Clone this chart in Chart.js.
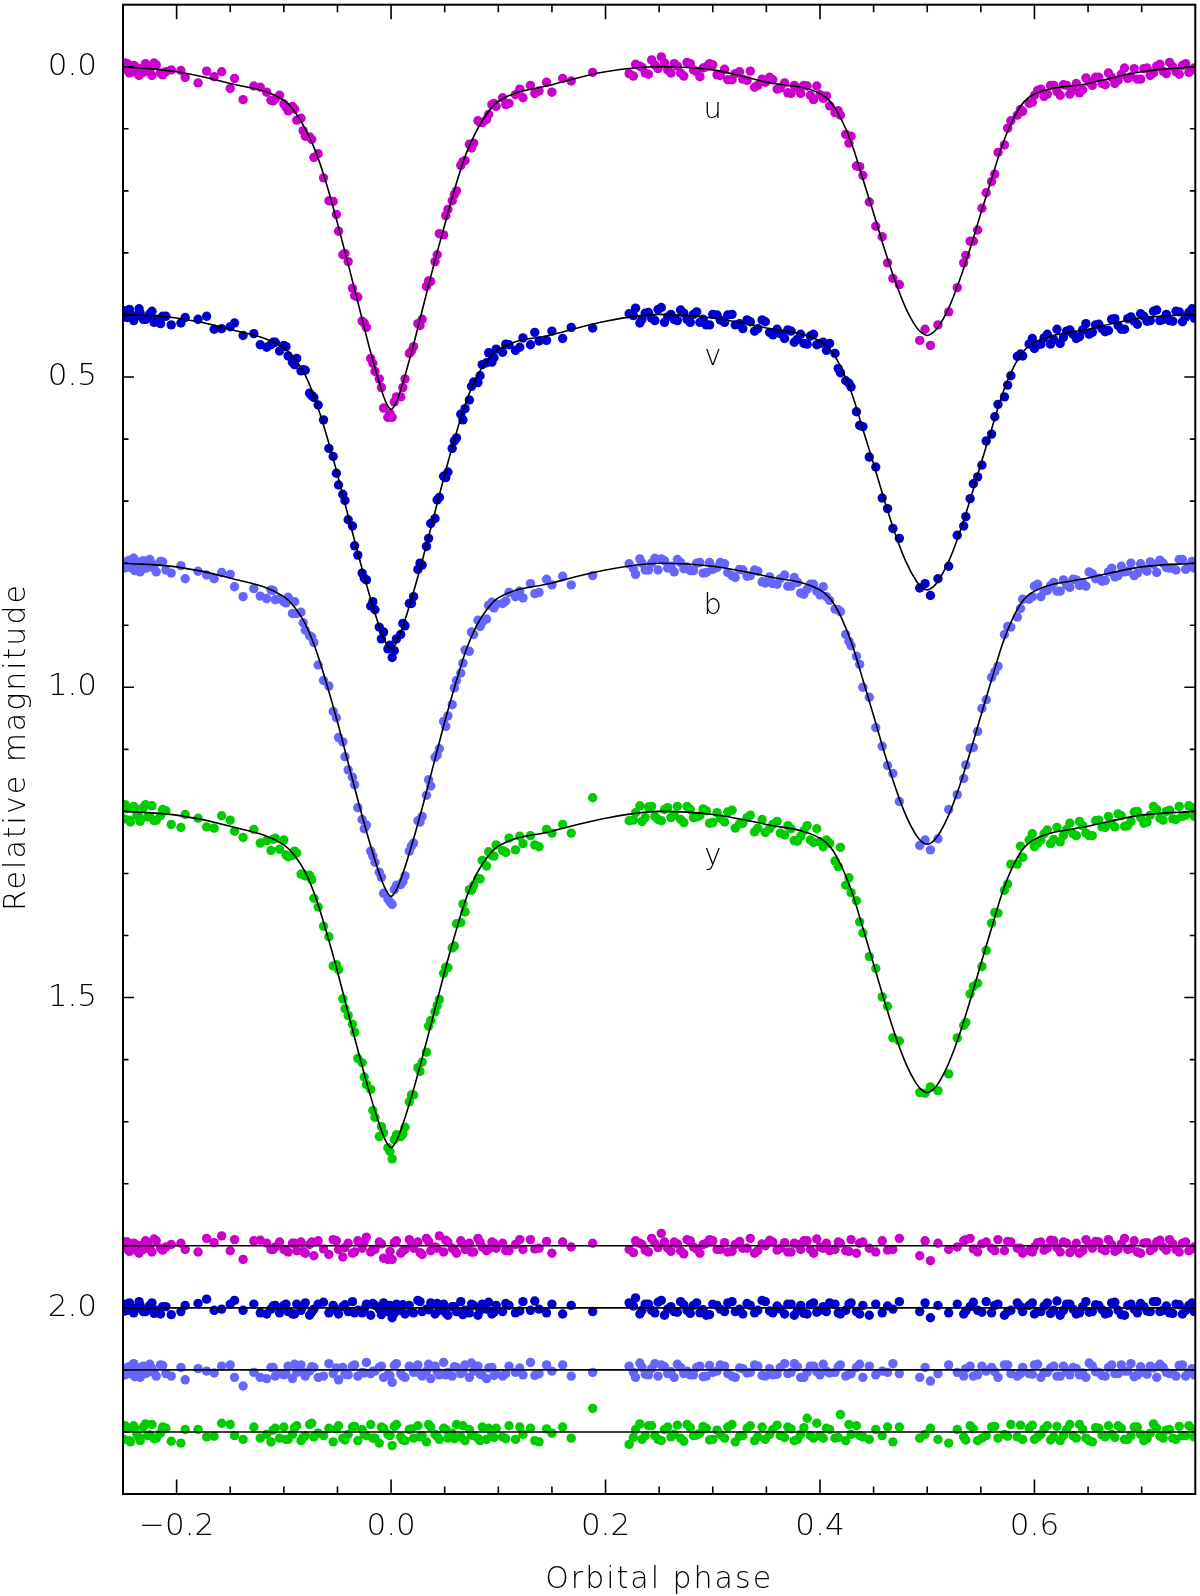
<!DOCTYPE html>
<html><head><meta charset="utf-8">
<script src="https://cdn.jsdelivr.net/npm/chart.js@4.4.0/dist/chart.umd.min.js"></script>
<style>html,body{margin:0;padding:0;background:#fff;}canvas{display:block;}</style>
</head><body>
<canvas id="c" width="1200" height="1596"></canvas>
<script>
// ===== observing run 1: phases shared by all four bands =====
const phase = [
-0.249,-0.246,-0.243,-0.240,-0.237,-0.234,-0.231,-0.227,-0.223,-0.219,-0.215,-0.210,-0.196,-0.192,-0.172,-0.158,-0.146,-0.138,-0.128,-0.116,-0.112,-0.108,-0.104,
-0.100,-0.096,-0.092,-0.088,-0.084,-0.080,-0.076,-0.072,-0.068,-0.058,-0.054,-0.049,-0.045,-0.040,-0.036,-0.031,-0.027,-0.023,-0.019,-0.015,-0.011,-0.007,-0.003,
0.001,0.005,0.009,0.013,0.017,0.021,0.025,0.029,0.033,0.037,0.041,0.045,0.049,0.053,0.057,0.061,0.065,0.069,0.073,0.077,0.081,0.085,0.089,0.094,0.098,
0.104,0.110,0.116,0.123,0.130,0.138,0.150,0.160,0.168,0.188,0.222,0.228,0.234,0.240,0.246,0.252,0.258,0.264,0.270,0.276,0.282,0.288,0.294,0.300,0.307,0.314,0.321,0.328,0.335,0.342,0.349,0.356,0.363,0.370,0.376,0.382,0.388,0.394,0.400,0.406,
0.414,0.419,0.424,0.429,0.434,0.440,0.446,0.452,0.458,0.468,0.474,0.493,0.498,0.503,0.510,0.520,0.528,0.534,0.540,0.547,0.555,0.560,0.566,0.572,0.578,0.584,0.589,
0.595,0.600,0.606,0.612,0.618,0.624,0.630,0.636,0.642,0.648,0.654,0.660,0.666,0.672,0.678,0.684,0.690,0.696,0.702,0.708,0.714,0.720,0.726,0.732,0.738,0.744,0.749];
const uMag = [
0.004,-0.005,0.003,-0.002,0.010,0.003,0.009,0.002,0.014,-0.003,0.010,0.008,0.006,0.017,0.007,0.008,0.019,0.053,0.031,0.041,0.054,0.052,0.046,
0.060,0.071,0.064,0.086,0.083,0.112,0.113,0.146,0.140,0.216,0.217,0.265,0.303,0.314,0.357,0.371,0.410,0.420,0.470,0.491,0.503,0.550,0.565,
0.565,0.532,0.532,0.503,0.462,0.451,0.414,0.407,0.354,0.346,0.314,0.269,0.271,0.230,0.216,0.200,0.159,0.151,0.125,0.123,0.087,0.090,0.085,0.061,0.064,
0.050,0.059,0.045,0.050,0.030,0.039,0.041,0.019,0.023,0.009,0.011,-0.004,0.001,0.012,-0.003,-0.016,0.005,-0.005,0.010,-0.007,0.005,0.016,0.000,-0.003,0.014,0.021,0.011,0.020,0.007,0.030,0.025,0.021,0.034,0.042,0.030,0.043,0.031,0.053,0.045,0.047,
0.074,0.078,0.109,0.112,0.160,0.175,0.218,0.257,0.274,0.341,0.351,0.441,0.423,0.449,0.416,0.395,0.356,0.316,0.281,0.263,0.203,0.185,0.138,0.126,0.087,0.078,0.072,
0.059,0.046,0.036,0.044,0.030,0.046,0.030,0.038,0.042,0.018,0.030,0.017,0.029,0.017,0.022,0.002,0.016,0.020,0.003,0.014,-0.001,0.007,-0.007,0.008,-0.002,0.009,0.002];
const vMag = [
0.393,0.404,0.398,0.409,0.401,0.397,0.407,0.404,0.394,0.407,0.414,0.402,0.413,0.404,0.402,0.422,0.413,0.433,0.430,0.452,0.448,0.444,0.458,
0.449,0.466,0.476,0.470,0.490,0.489,0.526,0.533,0.545,0.615,0.628,0.674,0.689,0.730,0.740,0.787,0.816,0.827,0.869,0.875,0.903,0.911,0.938,
0.952,0.922,0.915,0.901,0.865,0.854,0.810,0.803,0.773,0.736,0.728,0.694,0.660,0.653,0.615,0.598,0.560,0.551,0.537,0.508,0.509,0.480,0.477,0.476,0.455,
0.460,0.448,0.457,0.437,0.448,0.442,0.426,0.438,0.420,0.421,0.398,0.389,0.407,0.396,0.409,0.388,0.403,0.407,0.392,0.407,0.399,0.412,0.416,0.399,0.408,0.400,0.416,0.422,0.411,0.422,0.411,0.432,0.430,0.424,0.444,0.431,0.447,0.431,0.446,0.457,
0.462,0.493,0.506,0.516,0.556,0.580,0.629,0.645,0.695,0.744,0.760,0.840,0.833,0.852,0.825,0.805,0.755,0.740,0.696,0.661,0.603,0.592,0.544,0.532,0.498,0.467,0.466,
0.447,0.454,0.447,0.431,0.440,0.446,0.426,0.431,0.435,0.414,0.428,0.415,0.427,0.407,0.417,0.423,0.403,0.415,0.402,0.409,0.392,0.407,0.409,0.394,0.411,0.396,0.405];
const bMag = [
0.808,0.797,0.807,0.792,0.804,0.814,0.796,0.807,0.801,0.814,0.797,0.811,0.804,0.825,0.819,0.815,0.838,0.854,0.841,0.857,0.843,0.859,0.857,
0.862,0.855,0.881,0.881,0.879,0.908,0.917,0.928,0.964,0.998,1.039,1.081,1.088,1.133,1.145,1.194,1.213,1.222,1.264,1.282,1.298,1.332,1.341,
1.350,1.319,1.318,1.304,1.264,1.251,1.215,1.208,1.174,1.159,1.113,1.099,1.055,1.046,1.028,0.989,0.977,0.940,0.942,0.915,0.892,0.895,0.890,0.863,0.866,
0.865,0.847,0.854,0.856,0.833,0.847,0.835,0.821,0.835,0.820,0.801,0.818,0.800,0.811,0.792,0.793,0.808,0.814,0.799,0.806,0.812,0.799,0.815,0.810,0.799,0.815,0.823,0.811,0.820,0.813,0.832,0.833,0.825,0.837,0.823,0.848,0.842,0.834,0.851,0.854,
0.874,0.878,0.915,0.933,0.950,1.000,1.016,1.065,1.095,1.139,1.184,1.255,1.246,1.262,1.244,1.197,1.173,1.147,1.098,1.071,1.020,0.984,0.966,0.915,0.903,0.887,0.858,
0.858,0.837,0.854,0.844,0.831,0.845,0.835,0.826,0.836,0.837,0.817,0.824,0.828,0.808,0.820,0.814,0.800,0.816,0.809,0.798,0.815,0.800,0.808,0.811,0.794,0.805,0.808];
const yMag = [
1.212,1.195,1.217,1.192,1.206,1.216,1.194,1.209,1.191,1.214,1.207,1.199,1.226,1.205,1.225,1.207,1.232,1.242,1.229,1.247,1.263,1.243,1.261,
1.246,1.273,1.271,1.267,1.301,1.304,1.303,1.340,1.354,1.402,1.449,1.455,1.502,1.529,1.543,1.598,1.605,1.640,1.648,1.693,1.724,1.718,1.742,
1.760,1.721,1.724,1.709,1.668,1.657,1.613,1.604,1.588,1.537,1.523,1.503,1.461,1.452,1.420,1.381,1.379,1.362,1.326,1.319,1.308,1.279,1.288,1.271,1.254,
1.263,1.243,1.262,1.252,1.239,1.257,1.235,1.221,1.235,1.178,1.215,1.202,1.216,1.193,1.208,1.215,1.194,1.206,1.213,1.192,1.210,1.207,1.199,1.218,1.211,1.201,1.227,1.219,1.206,1.227,1.234,1.221,1.235,1.223,1.247,1.240,1.223,1.250,1.249,1.246,
1.280,1.258,1.319,1.331,1.344,1.396,1.434,1.453,1.499,1.565,1.570,1.653,1.654,1.644,1.650,1.623,1.565,1.545,1.494,1.477,1.424,1.380,1.364,1.327,1.285,1.285,1.274,
1.246,1.257,1.246,1.230,1.245,1.249,1.229,1.236,1.216,1.235,1.239,1.214,1.226,1.220,1.204,1.224,1.216,1.200,1.219,1.206,1.197,1.214,1.198,1.213,1.208,1.191,1.208];
// O-C residuals of run 1, as plotted (shifted rows)
const uRes = [
1.904,1.894,1.902,1.896,1.908,1.900,1.906,1.898,1.910,1.892,1.904,1.902,1.896,1.906,1.888,1.884,1.890,1.922,1.892,1.896,1.906,1.902,1.894,
1.906,1.910,1.896,1.908,1.894,1.912,1.898,1.916,1.892,1.914,1.890,1.906,1.918,1.896,1.912,1.892,1.904,1.886,1.910,1.906,1.894,1.920,1.922,
1.922,1.892,1.912,1.906,1.890,1.904,1.894,1.914,1.888,1.908,1.902,1.884,1.910,1.894,1.904,1.912,1.892,1.906,1.896,1.910,1.888,1.902,1.908,1.894,1.904,
1.896,1.908,1.898,1.906,1.890,1.904,1.912,1.894,1.902,1.896,1.906,1.892,1.898,1.910,1.896,1.880,1.904,1.894,1.908,1.890,1.902,1.912,1.896,1.892,1.906,1.910,1.898,1.904,1.888,1.908,1.900,1.894,1.904,1.910,1.896,1.906,1.892,1.912,1.902,1.896,
1.906,1.896,1.908,1.890,1.912,1.894,1.904,1.910,1.892,1.906,1.888,1.916,1.892,1.924,1.896,1.906,1.902,1.892,1.888,1.910,1.894,1.904,1.890,1.908,1.894,1.904,1.912,
1.908,1.902,1.894,1.904,1.892,1.910,1.896,1.906,1.912,1.890,1.904,1.894,1.908,1.898,1.906,1.888,1.904,1.910,1.896,1.908,1.894,1.902,1.890,1.906,1.896,1.908,1.902];
const vRes = [
1.994,2.004,1.998,2.008,2.000,1.996,2.006,2.002,1.992,2.004,2.010,1.998,2.006,1.996,1.986,2.002,1.988,2.004,1.994,2.010,2.002,1.996,2.008,
1.996,2.006,2.010,1.994,2.004,1.992,2.012,2.002,1.994,2.008,1.996,2.010,1.998,2.006,1.990,2.004,2.008,1.994,2.012,1.996,2.002,1.992,2.006,
2.016,1.994,2.004,2.010,1.996,2.008,1.988,2.006,2.002,1.992,2.010,2.004,1.994,2.012,1.998,2.006,1.990,2.004,2.008,1.996,2.012,1.994,2.002,2.010,1.996,
2.006,1.996,2.008,1.990,2.004,2.002,1.994,2.010,1.996,2.006,1.992,1.984,2.004,1.994,2.008,1.988,2.002,2.006,1.990,2.004,1.996,2.008,2.012,1.994,2.002,1.992,2.006,2.010,1.996,2.004,1.990,2.008,2.002,1.994,2.012,1.996,2.010,1.992,2.004,2.006,
1.994,2.010,2.004,1.992,2.006,1.996,2.012,1.994,2.008,2.002,1.990,2.006,1.992,2.016,1.996,2.008,1.994,2.010,1.998,2.004,1.990,2.008,1.994,2.012,2.004,1.992,2.006,
1.996,2.010,2.006,1.992,2.004,2.012,1.994,2.002,2.008,1.990,2.006,1.996,2.010,1.992,2.004,2.012,1.994,2.008,1.998,2.006,1.990,2.004,2.008,1.994,2.010,1.996,2.006];
const bRes = [
2.108,2.096,2.106,2.090,2.102,2.112,2.094,2.104,2.098,2.110,2.092,2.106,2.096,2.116,2.102,2.094,2.112,2.126,2.104,2.114,2.096,2.110,2.106,
2.108,2.094,2.114,2.104,2.092,2.110,2.102,2.096,2.112,2.090,2.106,2.116,2.096,2.108,2.094,2.110,2.104,2.088,2.106,2.102,2.096,2.112,2.108,
2.120,2.090,2.106,2.112,2.094,2.104,2.092,2.110,2.102,2.114,2.094,2.108,2.088,2.104,2.110,2.096,2.106,2.092,2.112,2.102,2.094,2.108,2.114,2.096,2.106,
2.110,2.094,2.104,2.108,2.088,2.106,2.102,2.092,2.110,2.104,2.094,2.112,2.096,2.108,2.090,2.092,2.106,2.112,2.096,2.102,2.108,2.094,2.110,2.104,2.092,2.106,2.112,2.098,2.104,2.094,2.110,2.108,2.096,2.106,2.090,2.112,2.104,2.094,2.108,2.102,
2.104,2.092,2.110,2.106,2.096,2.112,2.094,2.108,2.102,2.090,2.106,2.112,2.096,2.118,2.106,2.092,2.104,2.110,2.094,2.108,2.102,2.096,2.112,2.092,2.106,2.110,2.096,
2.106,2.092,2.112,2.104,2.094,2.110,2.102,2.096,2.108,2.112,2.094,2.104,2.110,2.092,2.106,2.102,2.090,2.108,2.104,2.094,2.112,2.096,2.106,2.110,2.092,2.104,2.108];
const yRes = [
2.212,2.194,2.216,2.190,2.204,2.214,2.192,2.206,2.188,2.210,2.202,2.194,2.218,2.196,2.208,2.186,2.206,2.212,2.192,2.204,2.216,2.194,2.210,
2.192,2.212,2.204,2.190,2.214,2.206,2.188,2.208,2.202,2.194,2.216,2.190,2.210,2.204,2.192,2.214,2.196,2.206,2.188,2.210,2.218,2.194,2.204,
2.222,2.188,2.208,2.214,2.196,2.210,2.190,2.206,2.216,2.192,2.204,2.212,2.194,2.210,2.202,2.188,2.208,2.214,2.196,2.206,2.210,2.192,2.212,2.204,2.194,
2.208,2.190,2.212,2.204,2.194,2.216,2.202,2.192,2.210,2.162,2.220,2.196,2.212,2.190,2.206,2.214,2.192,2.204,2.210,2.188,2.206,2.202,2.194,2.212,2.204,2.192,2.216,2.206,2.190,2.208,2.212,2.196,2.206,2.192,2.214,2.204,2.178,2.210,2.206,2.194,
2.210,2.172,2.214,2.204,2.190,2.208,2.212,2.196,2.206,2.216,2.192,2.210,2.204,2.194,2.212,2.218,2.196,2.208,2.190,2.214,2.206,2.192,2.210,2.204,2.188,2.208,2.212,
2.194,2.212,2.204,2.190,2.208,2.214,2.196,2.206,2.188,2.210,2.216,2.194,2.208,2.204,2.190,2.212,2.206,2.192,2.214,2.202,2.194,2.210,2.196,2.212,2.206,2.190,2.208];

// ===== observing run 2 =====
const phase2 = [
-0.248,-0.244,-0.239,-0.235,-0.229,-0.225,-0.221,-0.213,-0.205,-0.180,-0.165,-0.150,-0.122,-0.110,
-0.098,-0.090,-0.082,-0.074,-0.063,-0.051,-0.043,-0.034,-0.025,-0.017,-0.009,-0.001,
0.003,0.011,0.019,0.027,0.035,0.043,0.051,0.059,0.067,0.075,0.083,0.091,0.096,
0.107,0.120,0.134,0.145,0.226,0.232,0.237,0.243,0.249,0.255,0.261,0.267,0.273,0.279,0.285,0.291,0.297,0.304,0.311,0.318,0.325,0.332,0.339,0.346,0.353,0.360,0.367,0.373,0.379,0.385,0.391,0.397,0.403,0.409,
0.417,0.427,0.437,0.463,0.536,0.543,0.551,0.563,0.575,0.587,
0.598,0.603,0.609,0.615,0.621,0.627,0.633,0.639,0.645,0.651,0.657,0.663,0.669,0.675,0.681,0.687,0.693,0.699,0.705,0.711,0.717,0.723,0.729,0.735,0.741,0.747];
const uMag2 = [
-0.006,0.010,-0.001,0.014,-0.005,0.008,-0.006,0.013,0.005,0.026,0.016,0.035,0.033,0.055,
0.065,0.068,0.103,0.117,0.179,0.238,0.301,0.369,0.413,0.478,0.517,0.559,
0.540,0.517,0.458,0.417,0.345,0.303,0.240,0.206,0.153,0.131,0.090,0.077,0.059,
0.061,0.036,0.043,0.025,0.015,-0.001,0.010,-0.011,0.003,-0.006,0.010,-0.001,0.015,-0.005,0.008,0.002,-0.005,0.013,0.004,0.021,0.008,0.022,0.033,0.020,0.017,0.036,0.026,0.043,0.034,0.030,0.046,0.031,0.051,0.063,
0.071,0.123,0.161,0.316,0.304,0.281,0.228,0.173,0.099,0.069,
0.057,0.038,0.048,0.030,0.040,0.029,0.044,0.027,0.037,0.025,0.017,0.027,0.010,0.027,0.012,0.019,0.003,0.020,0.002,0.010,-0.004,0.011,0.000,0.012,-0.005,0.005];
const vMag2 = [
0.403,0.391,0.403,0.390,0.407,0.398,0.412,0.402,0.416,0.407,0.423,0.419,0.448,0.444,
0.451,0.480,0.488,0.530,0.569,0.655,0.699,0.772,0.824,0.862,0.922,0.932,
0.941,0.897,0.865,0.800,0.760,0.698,0.662,0.603,0.569,0.515,0.498,0.461,0.469,
0.447,0.452,0.428,0.441,0.401,0.413,0.397,0.405,0.391,0.412,0.399,0.409,0.397,0.412,0.395,0.407,0.416,0.400,0.412,0.399,0.414,0.408,0.426,0.408,0.428,0.423,0.438,0.426,0.439,0.446,0.434,0.448,0.444,0.446,
0.486,0.510,0.578,0.712,0.725,0.672,0.642,0.564,0.513,0.463,
0.438,0.448,0.437,0.447,0.423,0.436,0.424,0.438,0.424,0.431,0.416,0.422,0.425,0.406,0.423,0.406,0.410,0.398,0.410,0.394,0.409,0.399,0.410,0.395,0.403,0.390];
const bMag2 = [
0.807,0.795,0.812,0.798,0.808,0.794,0.808,0.798,0.816,0.813,0.825,0.818,0.853,0.844,
0.864,0.862,0.896,0.919,0.989,1.049,1.112,1.157,1.228,1.272,1.306,1.346,
1.326,1.313,1.256,1.217,1.149,1.109,1.063,1.001,0.961,0.911,0.902,0.868,0.872,
0.861,0.845,0.849,0.826,0.809,0.793,0.811,0.800,0.811,0.796,0.805,0.794,0.809,0.812,0.800,0.816,0.799,0.807,0.801,0.820,0.810,0.821,0.811,0.830,0.822,0.834,0.819,0.837,0.831,0.850,0.834,0.845,0.838,0.860,
0.875,0.926,0.963,1.126,1.125,1.097,1.034,0.975,0.902,0.873,
0.854,0.834,0.845,0.836,0.845,0.827,0.839,0.827,0.832,0.814,0.825,0.829,0.814,0.822,0.805,0.813,0.820,0.801,0.813,0.802,0.795,0.807,0.808,0.794,0.810,0.797];
const yMag2 = [
1.189,1.214,1.195,1.210,1.189,1.208,1.215,1.197,1.221,1.211,1.227,1.214,1.251,1.245,
1.270,1.264,1.301,1.310,1.385,1.447,1.518,1.556,1.628,1.682,1.708,1.748,
1.729,1.720,1.657,1.619,1.546,1.513,1.451,1.417,1.349,1.327,1.309,1.265,1.272,
1.266,1.240,1.254,1.229,1.214,1.191,1.210,1.192,1.213,1.197,1.210,1.192,1.218,1.197,1.209,1.196,1.219,1.202,1.217,1.198,1.220,1.210,1.233,1.213,1.228,1.216,1.238,1.228,1.248,1.231,1.246,1.228,1.257,1.251,
1.289,1.307,1.378,1.514,1.540,1.482,1.450,1.363,1.317,1.256,
1.236,1.251,1.236,1.252,1.226,1.239,1.219,1.239,1.223,1.239,1.215,1.225,1.208,1.225,1.207,1.223,1.201,1.210,1.217,1.192,1.211,1.200,1.212,1.192,1.206,1.194];
const uRes2 = [
1.894,1.909,1.897,1.912,1.892,1.904,1.889,1.907,1.898,1.910,1.895,1.908,1.891,1.906,
1.907,1.896,1.909,1.894,1.905,1.892,1.903,1.910,1.893,1.906,1.897,1.909,
1.895,1.908,1.898,1.911,1.893,1.904,1.891,1.906,1.897,1.910,1.894,1.905,1.896,
1.908,1.890,1.905,1.893,1.911,1.896,1.907,1.888,1.903,1.894,1.909,1.897,1.913,1.892,1.905,1.898,1.890,1.906,1.895,1.909,1.893,1.904,1.912,1.897,1.891,1.907,1.895,1.910,1.898,1.892,1.906,1.889,1.904,1.908,
1.894,1.909,1.896,1.907,1.890,1.905,1.897,1.908,1.893,1.904,
1.910,1.895,1.907,1.891,1.903,1.894,1.911,1.896,1.908,1.898,1.893,1.905,1.890,1.909,1.897,1.906,1.892,1.912,1.895,1.904,1.891,1.907,1.897,1.910,1.894,1.905];
const vRes2 = [
2.005,1.992,2.003,1.990,2.006,1.996,2.009,1.998,2.011,1.993,2.004,1.994,2.008,1.997,
1.994,2.010,1.997,2.007,1.991,2.004,1.995,2.008,2.002,1.993,2.011,1.996,
2.009,1.995,2.006,1.990,2.003,1.993,2.008,1.998,2.011,1.994,2.004,1.991,2.007,
1.993,2.005,1.989,2.008,1.997,2.010,1.994,2.004,1.991,2.012,1.998,2.007,1.995,2.009,1.992,2.003,2.011,1.996,2.006,1.990,2.002,1.993,2.008,1.988,2.005,1.997,2.010,1.994,2.004,2.009,1.995,2.007,1.998,1.992,
2.008,1.994,2.010,1.997,2.005,1.991,2.007,1.996,2.006,1.998,
1.992,2.006,1.997,2.009,1.989,2.004,1.994,2.010,1.998,2.007,1.995,2.003,2.008,1.991,2.011,1.996,2.002,1.993,2.005,1.990,2.006,1.997,2.009,1.995,2.004,1.992];
const bRes2 = [
2.108,2.095,2.111,2.097,2.106,2.091,2.104,2.093,2.110,2.098,2.105,2.092,2.112,2.096,
2.106,2.091,2.104,2.095,2.110,2.097,2.107,2.092,2.105,2.102,2.094,2.109,
2.093,2.110,2.096,2.106,2.091,2.103,2.108,2.095,2.102,2.089,2.107,2.097,2.109,
2.106,2.097,2.109,2.092,2.104,2.089,2.107,2.098,2.110,2.095,2.103,2.091,2.106,2.108,2.096,2.111,2.093,2.102,2.094,2.110,2.097,2.105,2.092,2.109,2.098,2.107,2.090,2.104,2.095,2.112,2.094,2.103,2.091,2.105,
2.095,2.107,2.091,2.104,2.098,2.110,2.094,2.103,2.092,2.106,
2.107,2.091,2.104,2.097,2.110,2.094,2.108,2.098,2.105,2.089,2.103,2.109,2.096,2.106,2.092,2.102,2.111,2.095,2.107,2.097,2.091,2.104,2.106,2.093,2.110,2.098];
const yRes2 = [
2.190,2.214,2.194,2.209,2.187,2.205,2.211,2.192,2.215,2.196,2.207,2.188,2.210,2.197,
2.212,2.193,2.209,2.186,2.206,2.195,2.213,2.191,2.204,2.210,2.192,2.206,
2.191,2.213,2.195,2.208,2.188,2.207,2.196,2.211,2.190,2.205,2.214,2.194,2.209,
2.211,2.192,2.214,2.195,2.209,2.187,2.206,2.190,2.212,2.196,2.208,2.189,2.215,2.193,2.205,2.191,2.213,2.197,2.210,2.188,2.207,2.194,2.214,2.192,2.204,2.189,2.209,2.195,2.212,2.193,2.206,2.186,2.210,2.196,
2.209,2.188,2.206,2.192,2.213,2.195,2.210,2.191,2.207,2.189,
2.189,2.208,2.195,2.213,2.191,2.206,2.188,2.210,2.196,2.214,2.193,2.205,2.190,2.209,2.194,2.212,2.192,2.204,2.211,2.187,2.207,2.197,2.210,2.191,2.206,2.195];

// ===== model light curves =====
const modelPhase = [-0.25,-0.2,-0.15,-0.1,-0.09,-0.08,-0.07,-0.06,-0.05,-0.04,-0.03,-0.02,-0.01,-0.005,0,0.005,0.01,0.02,0.03,0.04,0.05,0.06,0.07,0.08,0.09,0.1,0.15,0.2,0.25,0.3,0.35,0.4,0.41,0.42,0.43,0.44,0.45,0.46,0.47,0.48,0.49,0.495,0.5,0.505,0.51,0.52,0.53,0.54,0.55,0.56,0.57,0.58,0.59,0.6,0.65,0.7,0.75];
const uModel = [0.000,0.008,0.027,0.054,0.072,0.100,0.138,0.190,0.252,0.318,0.386,0.454,0.515,0.540,0.552,0.540,0.515,0.454,0.386,0.318,0.255,0.193,0.140,0.102,0.074,0.056,0.029,0.008,0.000,0.005,0.025,0.043,0.057,0.085,0.126,0.181,0.236,0.293,0.345,0.389,0.420,0.429,0.433,0.429,0.420,0.389,0.345,0.293,0.236,0.181,0.126,0.085,0.057,0.044,0.027,0.008,0.000];
const vModel = [0.399,0.405,0.423,0.453,0.470,0.497,0.540,0.595,0.657,0.724,0.790,0.852,0.907,0.928,0.938,0.928,0.907,0.852,0.790,0.724,0.657,0.595,0.540,0.499,0.472,0.455,0.432,0.410,0.399,0.405,0.421,0.442,0.457,0.486,0.528,0.584,0.640,0.698,0.752,0.797,0.829,0.839,0.843,0.839,0.829,0.797,0.752,0.698,0.640,0.584,0.528,0.486,0.458,0.444,0.423,0.405,0.399];
const bModel = [0.800,0.806,0.824,0.854,0.871,0.898,0.940,0.995,1.056,1.122,1.188,1.250,1.305,1.326,1.337,1.326,1.305,1.250,1.188,1.122,1.056,0.995,0.940,0.900,0.873,0.856,0.832,0.811,0.800,0.805,0.821,0.843,0.858,0.888,0.931,0.988,1.046,1.105,1.160,1.206,1.239,1.249,1.253,1.249,1.239,1.206,1.160,1.105,1.046,0.988,0.931,0.888,0.859,0.845,0.824,0.806,0.800];
const yModel = [1.200,1.206,1.224,1.254,1.271,1.298,1.340,1.396,1.458,1.525,1.591,1.654,1.709,1.731,1.742,1.731,1.709,1.654,1.591,1.525,1.458,1.396,1.340,1.300,1.273,1.256,1.232,1.211,1.200,1.205,1.221,1.243,1.258,1.288,1.331,1.388,1.446,1.505,1.560,1.606,1.639,1.649,1.653,1.649,1.639,1.606,1.560,1.505,1.446,1.388,1.331,1.288,1.259,1.245,1.224,1.206,1.200];

// ===== residual zero lines and axes =====
const resLevel = [1.9, 2.0, 2.1, 2.2];
const phaseRange = [-0.25, 0.75];
const magRange = [-0.1, 2.3];
const xTickVals = [-0.2, 0.0, 0.2, 0.4, 0.6];
const xMinorVals = [-0.15,-0.1,-0.05,0.05,0.1,0.15,0.25,0.3,0.35,0.45,0.5,0.55,0.65,0.7];
const yTickVals = [0.0, 0.5, 1.0, 1.5, 2.0];
const yMinorVals = [0.1,0.2,0.3,0.4,0.6,0.7,0.8,0.9,1.1,1.2,1.3,1.4,1.6,1.7,1.8,1.9,2.1,2.2];
const bandNames = ['u','v','b','y'];
const bandLabelMag = [0.083, 0.481, 0.882, 1.285];
const bandLabelPhase = 0.3;

const bandColor = ['#cc00cc','#0000cc','#6666ff','#00cc00'];
const FONT = '"DejaVu Sans", "Liberation Sans", sans-serif';
const WEIGHT = '200';

function pts(xs, ys){ return xs.map((x,i)=>({x:x, y:ys[i]})); }

const obsSets = [[uMag,uMag2],[vMag,vMag2],[bMag,bMag2],[yMag,yMag2]];
const resSets = [[uRes,uRes2],[vRes,vRes2],[bRes,bRes2],[yRes,yRes2]];
const modelSets = [uModel, vModel, bModel, yModel];

const datasets = [];
modelSets.forEach((m)=>datasets.push({data:pts(modelPhase,m), showLine:true, borderColor:'#000', borderWidth:1.6, pointRadius:0, cubicInterpolationMode:'monotone', order:0}));
resLevel.forEach((lv)=>datasets.push({data:pts(phaseRange,[lv,lv]), showLine:true, borderColor:'#000', borderWidth:1.6, pointRadius:0, order:0}));
obsSets.forEach((o,i)=>datasets.push({data:pts(phase,o[0]).concat(pts(phase2,o[1])), backgroundColor:bandColor[i], borderWidth:0, pointRadius:4.7, order:1}));
resSets.forEach((o,i)=>datasets.push({data:pts(phase,o[0]).concat(pts(phase2,o[1])), backgroundColor:bandColor[i], borderWidth:0, pointRadius:4.7, order:1}));

const deco = {
  id:'deco',
  afterDraw(chart){
    const {ctx, chartArea:a, scales:{x, y}} = chart;
    ctx.save();
    ctx.strokeStyle = '#000';
    ctx.lineWidth = 1.6;
    ctx.beginPath();
    xTickVals.forEach(v=>{const px=x.getPixelForValue(v); ctx.moveTo(px,a.bottom); ctx.lineTo(px,a.bottom-14.5); ctx.moveTo(px,a.top); ctx.lineTo(px,a.top+14.5);});
    xMinorVals.forEach(v=>{const px=x.getPixelForValue(v); ctx.moveTo(px,a.bottom); ctx.lineTo(px,a.bottom-7.5); ctx.moveTo(px,a.top); ctx.lineTo(px,a.top+7.5);});
    yTickVals.forEach(v=>{const py=y.getPixelForValue(v); ctx.moveTo(a.left,py); ctx.lineTo(a.left+11,py); ctx.moveTo(a.right,py); ctx.lineTo(a.right-11,py);});
    yMinorVals.forEach(v=>{const py=y.getPixelForValue(v); ctx.moveTo(a.left,py); ctx.lineTo(a.left+5.5,py); ctx.moveTo(a.right,py); ctx.lineTo(a.right-5.5,py);});
    ctx.stroke();
    ctx.lineWidth = 2;
    ctx.strokeRect(a.left, a.top, a.right-a.left, a.bottom-a.top);
    // band labels
    ctx.fillStyle = '#000';
    ctx.font = WEIGHT + ' 29px ' + FONT;
    ctx.textAlign = 'center';
    ctx.textBaseline = 'alphabetic';
    bandNames.forEach((n,i)=>ctx.fillText(n, x.getPixelForValue(bandLabelPhase), y.getPixelForValue(bandLabelMag[i])));
    // axis titles
    ctx.font = WEIGHT + ' 30px ' + FONT;
    try { ctx.letterSpacing = '2px'; } catch(e) {}
    ctx.fillText('Orbital phase', (a.left+a.right)/2, 1588);
    ctx.save();
    ctx.translate(25, 747);
    ctx.rotate(-Math.PI/2);
    ctx.fillText('Relative magnitude', 0, 0);
    ctx.restore();
    ctx.restore();
  }
};

const fmt = v => (v < 0 ? '\u2212' : '') + Math.abs(v).toFixed(1);

new Chart(document.getElementById('c'), {
  type:'scatter',
  data:{datasets},
  options:{
    responsive:false, animation:false, devicePixelRatio:1,
    layout:{padding:{left:0, top:1, right:2, bottom:0}},
    plugins:{legend:{display:false}, tooltip:{enabled:false}},
    scales:{
      x:{type:'linear', min:phaseRange[0], max:phaseRange[1],
         grid:{display:false, drawTicks:false}, border:{display:false},
         afterBuildTicks:s=>{s.ticks = xTickVals.map(v=>({value:v}));},
         afterFit:s=>{s.height = 102; s.paddingLeft = 0; s.paddingRight = 0;},
         ticks:{autoSkip:false, maxRotation:0, padding:14, color:'#000', font:{family:FONT, size:31, weight:WEIGHT}, callback:fmt}},
      y:{type:'linear', reverse:true, min:magRange[0], max:magRange[1],
         grid:{display:false, drawTicks:false}, border:{display:false},
         afterBuildTicks:s=>{s.ticks = yTickVals.map(v=>({value:v}));},
         afterFit:s=>{s.width = 123; s.paddingTop = 0; s.paddingBottom = 0;},
         ticks:{autoSkip:false, padding:26, color:'#000', font:{family:FONT, size:31, weight:WEIGHT}, callback:fmt}}
    }
  },
  plugins:[deco]
});
</script>
</body></html>
